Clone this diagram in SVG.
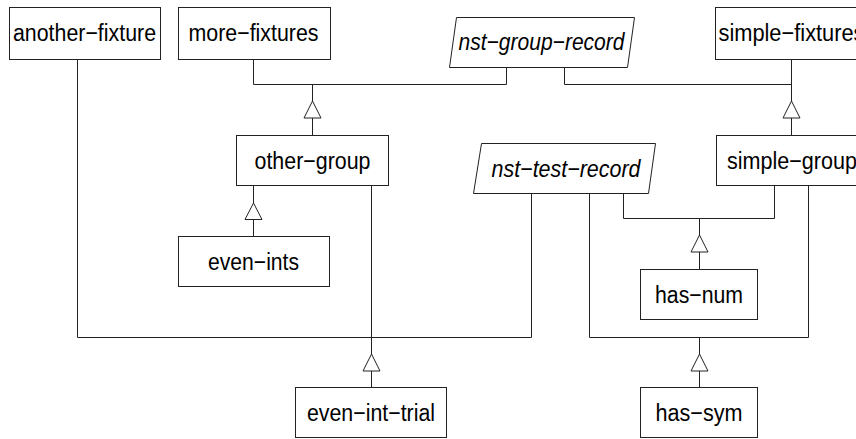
<svg xmlns="http://www.w3.org/2000/svg" width="856" height="439" viewBox="0 0 856 439">
<style>
.box{fill:#fff;stroke:#222;stroke-width:1}
.lbl{font-family:"Liberation Sans",Arial,sans-serif;font-size:23.5px;fill:#000;text-anchor:middle}
.it{font-style:italic}
.con{fill:none;stroke:#222;stroke-width:1}
.tri{fill:#fff;stroke:#222;stroke-width:1}
</style>
<rect width="856" height="439" fill="#fff"/>
<g id="connectors">
<polyline class="con" points="253.5,59 253.5,84.5 506.5,84.5 506.5,67"/>
<line class="con" x1="312.5" y1="84.5" x2="312.5" y2="101"/>
<line class="con" x1="312.5" y1="118" x2="312.5" y2="135"/>
<polyline class="con" points="564.5,67 564.5,84.5 791.5,84.5"/>
<line class="con" x1="791.5" y1="59" x2="791.5" y2="101"/>
<line class="con" x1="791.5" y1="118" x2="791.5" y2="135"/>
<line class="con" x1="253.5" y1="185" x2="253.5" y2="203"/>
<line class="con" x1="253.5" y1="219" x2="253.5" y2="236"/>
<polyline class="con" points="77.5,59 77.5,337.5 531.5,337.5 531.5,193"/>
<line class="con" x1="371.5" y1="185" x2="371.5" y2="354"/>
<line class="con" x1="371.5" y1="371" x2="371.5" y2="387"/>
<polyline class="con" points="589.5,193 589.5,337.5 808.5,337.5 808.5,185"/>
<line class="con" x1="699.5" y1="337.5" x2="699.5" y2="354"/>
<line class="con" x1="699.5" y1="371" x2="699.5" y2="387"/>
<polyline class="con" points="623.5,193 623.5,218.5 774.5,218.5 774.5,185"/>
<line class="con" x1="699.5" y1="218.5" x2="699.5" y2="235"/>
<line class="con" x1="699.5" y1="252" x2="699.5" y2="269"/>
<polygon class="tri" points="312.5,101 304,118 321,118"/>
<polygon class="tri" points="791.5,101 783,118 800,118"/>
<polygon class="tri" points="253.5,203 245,219.5 262,219.5"/>
<polygon class="tri" points="699.5,235 691,252 708,252"/>
<polygon class="tri" points="371.5,354 363,371 380,371"/>
<polygon class="tri" points="699.5,354 691,371 708,371"/>
</g>
<g id="another-fixture">
<rect class="box" x="9.5" y="7.5" width="151" height="52"/>
<text class="lbl" x="84.5" y="41" textLength="143" lengthAdjust="spacingAndGlyphs">another−fixture</text>
</g>
<g id="more-fixtures">
<rect class="box" x="178.5" y="7.5" width="152" height="52"/>
<text class="lbl" x="253.5" y="41" textLength="130" lengthAdjust="spacingAndGlyphs">more−fixtures</text>
</g>
<g id="nst-group-record">
<polygon class="box" points="456.5,17.5 634.5,17.5 627.5,67.5 449.5,67.5"/>
<text class="lbl it" x="541.5" y="50" textLength="166" lengthAdjust="spacingAndGlyphs">nst−group−record</text>
</g>
<g id="simple-fixtures">
<rect class="box" x="715.5" y="7.5" width="152" height="52"/>
<text class="lbl" x="791.5" y="41" textLength="146" lengthAdjust="spacingAndGlyphs">simple−fixtures</text>
</g>
<g id="other-group">
<rect class="box" x="236.5" y="135.5" width="152" height="50"/>
<text class="lbl" x="312.5" y="168.5" textLength="116" lengthAdjust="spacingAndGlyphs">other−group</text>
</g>
<g id="nst-test-record">
<polygon class="box" points="481.5,143.5 655.5,143.5 648.5,193.5 473.5,193.5"/>
<text class="lbl it" x="566" y="176.5" textLength="149" lengthAdjust="spacingAndGlyphs">nst−test−record</text>
</g>
<g id="simple-group">
<rect class="box" x="716.5" y="135.5" width="152" height="50"/>
<text class="lbl" x="792" y="168.5" textLength="130" lengthAdjust="spacingAndGlyphs">simple−group</text>
</g>
<g id="even-ints">
<rect class="box" x="178.5" y="236.5" width="151" height="50"/>
<text class="lbl" x="253.5" y="269.5" textLength="91" lengthAdjust="spacingAndGlyphs">even−ints</text>
</g>
<g id="has-num">
<rect class="box" x="640.5" y="269.5" width="117" height="50"/>
<text class="lbl" x="699" y="302.5" textLength="88" lengthAdjust="spacingAndGlyphs">has−num</text>
</g>
<g id="even-int-trial">
<rect class="box" x="295.5" y="387.5" width="151" height="50"/>
<text class="lbl" x="371" y="420.5" textLength="128" lengthAdjust="spacingAndGlyphs">even−int−trial</text>
</g>
<g id="has-sym">
<rect class="box" x="640.5" y="387.5" width="117" height="50"/>
<text class="lbl" x="699" y="420.5" textLength="87" lengthAdjust="spacingAndGlyphs">has−sym</text>
</g>
</svg>
